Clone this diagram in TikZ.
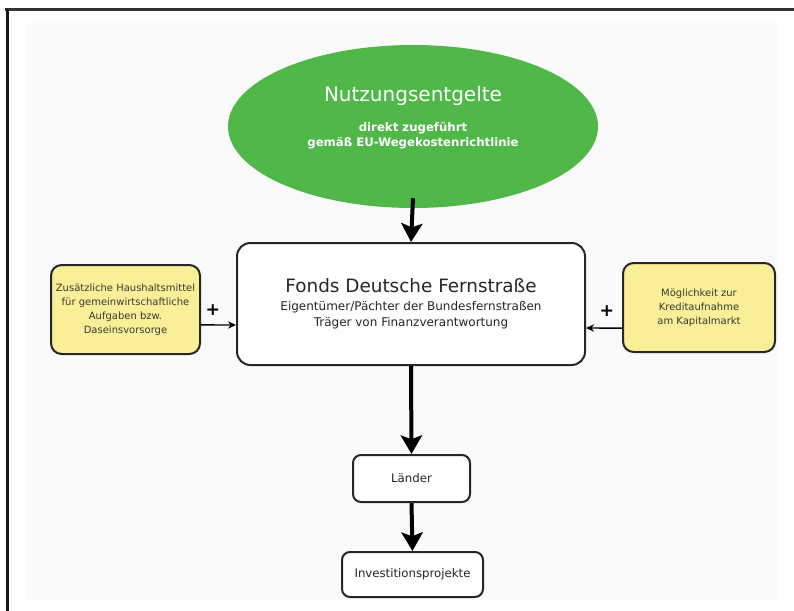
\documentclass[tikz,border=0pt]{standalone}
\usepackage{fontspec}
\setmainfont{DejaVu Sans}
\usetikzlibrary{shapes.geometric,arrows.meta}
\definecolor{fgreen}{HTML}{4FB848}
\definecolor{fyellow}{HTML}{F8EF98}
\definecolor{bgray}{HTML}{FAFAFA}
\definecolor{dborder}{HTML}{262626}
\definecolor{ytext}{HTML}{3A3A30}
\begin{document}
\begin{tikzpicture}[x=0.75pt,y=-0.75pt,
  whitebox/.style={draw=dborder, line width=1.5pt, fill=white, align=center, inner sep=0pt, text=black!85},
  yellowbox/.style={draw=dborder, line width=1.5pt, fill=fyellow, rounded corners=8pt, align=center, inner sep=0pt,
     minimum height=66.75pt, text=ytext, font=\fontsize{7.5}{10.5}\selectfont},
  bigarrow/.style={line width=3pt, -{Stealth[length=14pt,width=16pt,inset=3pt]}, black},
  smallarrow/.style={line width=1.1pt, -{Stealth[length=6pt,width=5.5pt]}, black},
  plussign/.style={font=\bfseries\fontsize{13}{13}\selectfont, inner sep=0pt}
]
\useasboundingbox (0,0) rectangle (794,611);
% frame and background
\fill[bgray] (26,23) rectangle (778,600);
\draw[line width=1.6pt, black!80] (5,9.5) -- (794,9.5);
\draw[line width=1.6pt, black!90] (7.5,9) -- (7.5,611);

% ellipse
\node[ellipse, fill=fgreen, minimum width=277.5pt, minimum height=122.25pt, inner sep=0pt] (ell) at (413,126.5) {};
\node[text=white, align=center, inner sep=0pt, font=\bfseries\fontsize{8.8}{11.5}\selectfont] (elltext) at (413,117.5)
  {{\mdseries\fontsize{15}{18}\selectfont Nutzungsentgelte}\\[11pt] direkt zugeführt\\ gemäß EU-Wegekostenrichtlinie};

% main box
\node[whitebox, rounded corners=10pt, minimum width=261pt, minimum height=91.5pt, font=\fontsize{9}{12}\selectfont] (main) at (411,304)
  {{\fontsize{13.8}{16}\selectfont Fonds Deutsche Fernstraße}\\[1.5pt] Eigentümer/Pächter der Bundesfernstraßen\\ Träger von Finanzverantwortung};

% side boxes
\node[yellowbox, minimum width=111.75pt] (lbox) at (125.5,309.5)
  {Zusätzliche Haushaltsmittel\\ für gemeinwirtschaftliche\\ Aufgaben bzw.\\ Daseinsvorsorge};
\node[yellowbox, minimum width=114pt] (rbox) at (699,307.5)
  {Möglichkeit zur\\ Kreditaufnahme\\ am Kapitalmarkt};

% lower boxes
\node[whitebox, rounded corners=6pt, minimum width=87.75pt, minimum height=35.25pt, font=\fontsize{8.8}{11}\selectfont] (laender) at (411.5,478.5) {Länder};
\node[whitebox, rounded corners=6pt, minimum width=105.75pt, minimum height=33.75pt, font=\fontsize{8.8}{11}\selectfont] (invest) at (412.5,574.5) {Investitionsprojekte};

% plus signs
\node[plussign] (plusl) at (213,310) {+};
\node[plussign] (plusr) at (607,311) {+};

% connectors
\draw[bigarrow] ([yshift=7.5pt]ell.south) -- (main.north);
\draw[bigarrow] (main.south) -- (laender.north);
\draw[bigarrow] (laender.south) -- (invest.north);
\draw[smallarrow] ([yshift=-11.6pt]lbox.east) -- ([yshift=-15.75pt]main.west);
\draw[smallarrow] ([yshift=-15.4pt]rbox.west) -- ([yshift=-18pt]main.east);
\end{tikzpicture}
\end{document}
